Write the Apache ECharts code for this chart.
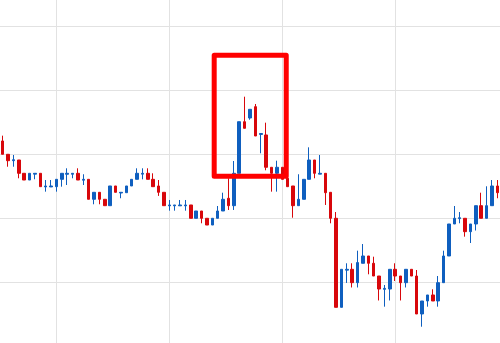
<!DOCTYPE html>
<html>
<head>
<meta charset="utf-8">
<script src="https://cdn.jsdelivr.net/npm/echarts@6/dist/echarts.min.js"></script>
<style>
html,body{margin:0;padding:0;background:#fff;}
#chart{width:500px;height:343px;}
</style>
</head>
<body>
<div id="chart"></div>
<script>
// [open, close, lowest, highest]
var ohlc = [
[132.08,130.00,130.00,132.91],[130.00,129.00,128.06,130.00],[129.00,129.15,128.06,129.89],[129.11,127.03,126.25,129.11],
[127.03,125.98,125.98,127.03],[125.98,127.03,125.98,127.03],[126.90,127.03,126.10,127.03],[127.03,124.94,124.94,127.03],
[124.90,125.05,124.16,125.98],[124.90,125.05,124.90,125.98],[124.94,126.09,124.16,126.09],[126.09,127.03,124.94,127.03],
[126.88,127.03,125.20,127.81],[126.88,127.03,126.25,127.03],[127.03,125.98,125.98,127.81],[125.95,126.09,125.20,126.88],
[126.09,122.97,122.97,126.09],[122.97,124.06,122.19,124.06],[124.06,122.97,122.19,124.06],[122.97,121.97,121.97,122.97],
[121.97,125.05,121.97,125.05],[125.05,124.06,124.06,125.05],[123.95,124.06,123.13,124.06],[124.00,125.05,124.00,125.05],
[125.05,126.09,125.05,126.09],[126.09,127.03,126.09,127.81],[126.90,127.03,126.09,127.81],[127.03,126.09,126.09,127.81],
[126.09,124.94,124.94,127.03],[125.05,124.06,123.50,125.98],[124.06,121.97,121.97,124.06],[121.95,122.08,121.19,122.86],
[121.95,122.08,121.19,122.08],[121.95,122.08,121.95,122.86],[121.95,122.08,121.19,122.86],[122.08,120.00,120.00,122.08],
[120.00,121.14,120.00,121.14],[121.14,120.00,119.22,121.14],[120.00,118.95,118.95,120.00],[118.95,120.00,118.95,120.00],
[120.00,121.14,120.00,121.92],[121.14,122.97,121.14,124.00],[123.13,121.97,121.30,126.25],[121.97,127.03,121.30,128.95],
[127.03,135.09,127.03,135.09],[135.09,134.06,134.06,139.00],[135.67,137.03,135.40,137.03],[137.44,132.86,132.86,137.86],
[133.10,133.25,130.16,133.25],[133.02,127.97,127.50,134.94],[127.97,127.03,124.16,127.97],[127.03,127.97,124.16,129.00],
[127.97,126.09,126.09,127.97],[126.25,124.94,124.94,126.25],[125.05,121.97,120.09,125.05],[121.97,122.97,121.97,126.88],
[122.97,126.09,122.97,126.09],[126.09,129.11,126.09,131.09],[129.11,127.03,126.25,129.11],[126.90,127.03,126.90,129.89],
[127.03,124.00,122.08,127.03],[124.06,120.00,119.22,124.06],[120.00,106.09,106.09,120.98],[106.09,112.03,106.09,112.03],
[111.90,112.03,109.90,112.97],[112.03,109.94,109.19,112.97],[109.94,113.08,109.19,114.94],[112.97,114.11,112.97,115.98],
[114.11,112.97,111.25,114.11],[112.97,110.98,110.98,114.00],[110.98,108.95,107.16,110.98],[108.90,109.05,106.19,109.58],
[108.95,112.03,107.16,112.03],[112.03,110.98,110.20,112.97],[110.98,109.94,107.16,110.98],[109.94,112.03,109.19,112.03],
[112.03,110.98,110.98,112.03],[110.98,105.05,105.05,111.92],[105.05,107.08,103.06,107.08],[107.08,108.02,106.19,108.02],
[108.02,107.08,107.08,108.91],[107.08,109.94,106.19,110.98],[109.94,114.11,109.94,114.94],[114.11,119.11,114.11,119.11],
[119.11,120.00,119.11,121.92],[119.95,120.09,119.22,120.98],[120.00,117.91,117.13,120.00],[117.91,119.11,116.14,119.11],
[119.11,121.97,118.09,121.97],[121.97,120.00,120.00,124.00],[120.00,121.97,120.00,125.00],[121.97,125.05,121.97,125.98],
[125.05,124.00,123.13,125.98]
];
var categories = ohlc.map(function (d, i) { return 'D' + (i + 1); });
var verticalGridIdx = [10, 31, 52, 73];
var boxX = [39.34, 52.74];
var boxY = [126.58, 145.48];
var yMin = 100, yMax = 155.67, yStep = 10;

var boxData = [
  [boxX[0], boxY[1]], [boxX[1], boxY[1]], [boxX[1], boxY[0]], [boxX[0], boxY[0]], [boxX[0], boxY[1]]
];

var chart = echarts.init(document.getElementById('chart'), null, {renderer: 'canvas'});
chart.setOption({
  animation: false,
  backgroundColor: '#ffffff',
  grid: {left: 0, right: 0, top: -10, height: 356.3, containLabel: false, outerBoundsMode: 'none'},
  xAxis: [
    {type: 'category', data: categories, boundaryGap: true,
     axisLine: {show: false}, axisTick: {show: false}, axisLabel: {show: false}, splitLine: {show: false}},
    {type: 'value', min: -0.5, max: ohlc.length - 0.5, show: false,
     axisLine: {show: false}, axisTick: {show: false}, axisLabel: {show: false}, splitLine: {show: false}}
  ],
  yAxis: {
    type: 'value', min: yMin, max: yMax, interval: yStep, scale: true,
    axisLine: {show: false}, axisTick: {show: false}, axisLabel: {show: false},
    splitLine: {show: true, lineStyle: {color: '#e2e2e2', width: 1}}
  },
  series: [
    {
      type: 'candlestick', xAxisIndex: 0, data: ohlc, barWidth: 3, z: 2,
      itemStyle: {color: '#0f5fbf', color0: '#d8070b', borderColor: '#0f5fbf', borderColor0: '#d8070b', borderWidth: 1},
      markLine: {
        silent: true, symbol: ['none', 'none'], z: 1, animation: false,
        label: {show: false},
        lineStyle: {color: '#e2e2e2', width: 1, type: 'solid'},
        data: verticalGridIdx.map(function (i) { return {xAxis: i}; })
      }
    },
    {
      type: 'line', xAxisIndex: 1, data: boxData, z: 5, showSymbol: false, symbol: 'none', silent: true,
      lineStyle: {color: '#ff0000', width: 5, join: 'round', cap: 'round'}
    }
  ]
});
</script>
</body>
</html>
